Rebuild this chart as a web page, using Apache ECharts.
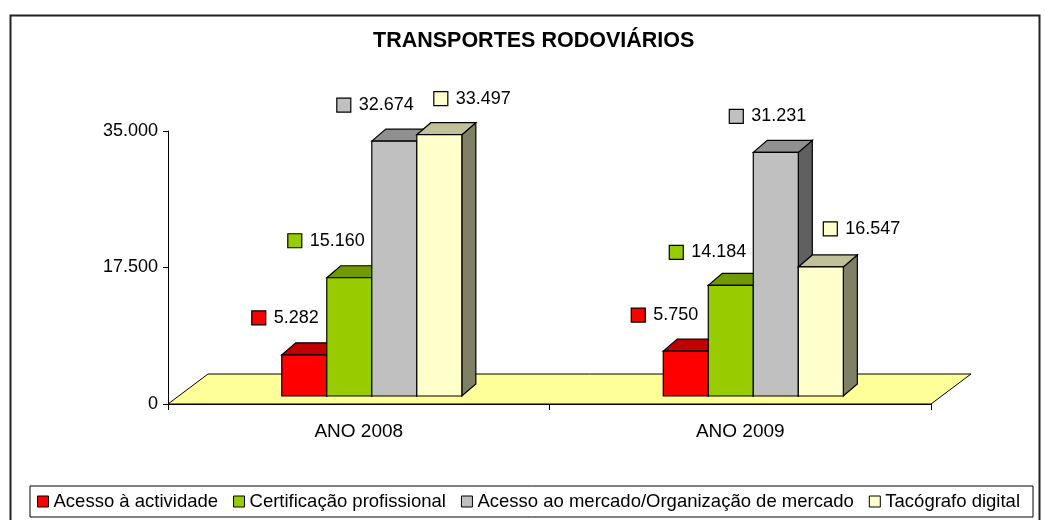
<!DOCTYPE html>
<html>
<head>
<meta charset="utf-8">
<script src="https://cdn.jsdelivr.net/npm/echarts@6/dist/echarts.min.js"></script>
<style>html,body{margin:0;padding:0;background:#fff}#c{width:1045px;height:520px}</style>
</head>
<body>
<div id="c"></div>
<script>
// ---- data ----
const categories = ['ANO 2008', 'ANO 2009'];
const seriesNames = ['Acesso à actividade', 'Certificação profissional', 'Acesso ao mercado/Organização de mercado', 'Tacógrafo digital'];
const acessoActividade = [5282, 5750];
const certificacaoProfissional = [15160, 14184];
const acessoMercado = [32674, 31231];
const tacografoDigital = [33497, 16547];
const yTicks = [0, 17500, 35000];
const titleText = 'TRANSPORTES RODOVIÁRIOS';

// ---- styles / layout ----
const FONT = "'Liberation Sans', Arial, sans-serif";
const faceColors = [
  { front: '#FF0000', top: '#C00000', side: '#800000' },
  { front: '#99CC00', top: '#739900', side: '#4D6600' },
  { front: '#C0C0C0', top: '#909090', side: '#606060' },
  { front: '#FFFFCC', top: '#C0C099', side: '#808066' }
];
const DEPTH = { x: 14, y: 12 };      // bar depth offset
const LIFT = 8;                        // bars sit slightly back on the floor
const FLOOR = { x: 40, y: 30 };
// label placement relative to bar front-left corner / front top [series][category]
const labelDX = [[-30, -32], [-39, -39], [-35, -24], [17, 25]];
const labelDY = [[-37, -36], [-37, -33], [-36, -36], [-36, -38]];

const allValues = [acessoActividade, certificacaoProfissional, acessoMercado, tacografoDigital];

function fmt(v) { return String(v).replace(/\B(?=(\d{3})+(?!\d))/g, '.'); }

function barRenderer(si) {
  return function (params, api) {
    const ci = api.value(0), v = api.value(1);
    const base = api.coord([ci, 0]);
    const topP = api.coord([ci, v]);
    const band = api.size([1, 0])[0];
    const w = band * 0.118;
    const x0 = base[0] - band * 0.2018 + si * w;
    const x1 = x0 + w;
    const yb = base[1] - LIFT, yt = topP[1] - LIFT;
    const c = faceColors[si];
    const st = { stroke: '#000', lineWidth: 1.2 };
    const lx = x0 + labelDX[si][ci], ly = yt + labelDY[si][ci];
    return {
      type: 'group',
      children: [
        { type: 'polygon', shape: { points: [[x1, yt], [x1 + DEPTH.x, yt - DEPTH.y], [x1 + DEPTH.x, yb - DEPTH.y], [x1, yb]] }, style: Object.assign({ fill: c.side }, st) },
        { type: 'polygon', shape: { points: [[x0, yt], [x1, yt], [x1 + DEPTH.x, yt - DEPTH.y], [x0 + DEPTH.x, yt - DEPTH.y]] }, style: Object.assign({ fill: c.top }, st) },
        { type: 'rect', shape: { x: x0, y: yt, width: w, height: yb - yt }, style: Object.assign({ fill: c.front }, st) },
        { type: 'rect', shape: { x: lx, y: ly - 7, width: 14, height: 14 }, style: { fill: c.front, stroke: '#000', lineWidth: 1.2 } },
        { type: 'text', x: lx + 22, y: ly, style: { text: fmt(v), fill: '#000', font: '18px ' + FONT, verticalAlign: 'middle', align: 'left' } }
      ]
    };
  };
}

function floorRenderer(params) {
  const cs = params.coordSys;
  const fx = cs.x, fy = cs.y + cs.height, fw = cs.width;
  return {
    type: 'polygon',
    shape: { points: [[fx, fy], [fx + fw, fy], [fx + fw + FLOOR.x, fy - FLOOR.y], [fx + FLOOR.x, fy - FLOOR.y]] },
    style: { fill: '#FFFF99', stroke: '#000', lineWidth: 1 }
  };
}

const series = [{
  type: 'custom', name: 'floor', renderItem: floorRenderer, data: [[0, 0]], silent: true, z: 1,
  encode: { x: 0, y: 1 }
}];
seriesNames.forEach(function (n, si) {
  series.push({
    type: 'custom', name: n, z: 2,
    renderItem: barRenderer(si),
    encode: { x: 0, y: 1 },
    itemStyle: { color: faceColors[si].front, borderColor: '#000', borderWidth: 1 },
    data: categories.map(function (_, ci) { return [ci, allValues[si][ci]]; })
  });
});

const chart = echarts.init(document.getElementById('c'), null, { renderer: 'canvas' });
chart.setOption({
  backgroundColor: '#fff',
  animation: false,
  title: {
    text: titleText, left: 373, top: 29, padding: 0,
    textStyle: { fontFamily: FONT, fontWeight: 'bold', fontSize: 21.5, color: '#000', lineHeight: 24 }
  },
  graphic: [{
    type: 'rect', left: 8, top: 13, shape: { width: 1029, height: 540 },
    style: { fill: 'none', stroke: '#222', lineWidth: 2 }, z: -1, silent: true
  }],
  grid: { left: 168, right: 114, top: 131, bottom: 116 },
  xAxis: {
    type: 'category', data: categories,
    axisLine: { show: true, lineStyle: { color: '#000', width: 1 } },
    axisTick: { show: true, length: 6, lineStyle: { color: '#000' } },
    axisLabel: { fontFamily: FONT, fontSize: 19, color: '#000', margin: 18 },
    splitLine: { show: false }
  },
  yAxis: {
    type: 'value', min: yTicks[0], max: yTicks[yTicks.length - 1], interval: yTicks[1] - yTicks[0],
    axisLine: { show: true, lineStyle: { color: '#000', width: 1 } },
    axisTick: { show: true, length: 5, lineStyle: { color: '#000' } },
    axisLabel: { fontFamily: FONT, fontSize: 18, color: '#000', margin: 10, formatter: function (v) { return fmt(v); } },
    splitLine: { show: false }
  },
  legend: {
    left: 30, top: 486, padding: [6, 13, 6, 7],
    borderColor: '#000', borderWidth: 1,
    itemWidth: 11, itemHeight: 11, itemGap: 15,
    textStyle: { fontFamily: FONT, fontSize: 18.5, color: '#000' },
    data: seriesNames.map(function (n, si) {
      return { name: n, icon: 'rect', itemStyle: { color: faceColors[si].front, borderColor: '#000', borderWidth: 1 } };
    })
  },
  series: series
});
</script>
</body>
</html>
